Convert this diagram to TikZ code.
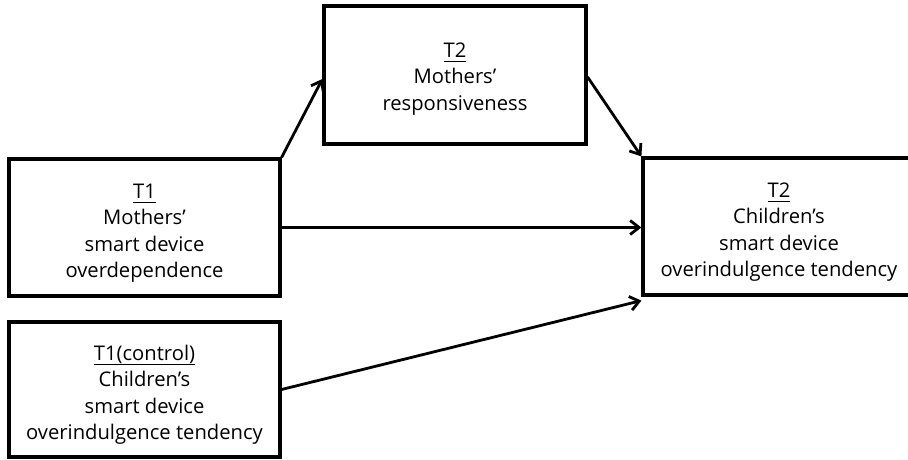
\documentclass[tikz,border=0pt]{standalone}
\usepackage{fontspec}
\setmainfont{Open Sans}
\usetikzlibrary{arrows.meta}
\newcommand{\ul}[1]{\underline{\smash{#1}\rule[-2.5pt]{0pt}{1pt}}}
\begin{document}
\begin{tikzpicture}[x=1pt,y=-1pt,
  box/.style={draw,line width=3.2pt,inner sep=0pt},
  txt/.style={align=center,inner sep=0pt,yshift=-13pt,
    font=\fontsize{20.2}{26.5}\selectfont},
  conn/.style={line width=2.8pt,-{Straight Barb[length=9pt,width=14pt,line width=2.8pt]}}]
\useasboundingbox (0,0) rectangle (908,460);
\node[box,minimum width=262pt,minimum height=138pt,
  label={[txt,yshift=2pt]center:{\ul{T2}\\Mothers’\\responsiveness}}] (top) at (455,75) {};
\node[box,minimum width=271pt,minimum height=137pt,
  label={[txt]center:{\ul{T1}\\Mothers’\\smart device\\overdependence}}] (b1) at (144.5,227.5) {};
\node[box,minimum width=271pt,minimum height=135pt,
  label={[txt]center:{\ul{T1(control)}\\Children’s\\smart device\\overindulgence tendency}}] (b3) at (144.5,389.5) {};
\node[box,minimum width=272pt,minimum height=137pt,
  label={[txt]center:{\ul{T2}\\Children’s\\smart device\\overindulgence tendency}}] (r) at (779,226.5) {};
\coordinate (tin) at ([yshift=-4pt]top.west);
\coordinate (tout) at ([yshift=-2pt]top.east);
\coordinate (rlow) at ([yshift=-4pt]r.south west);
\draw[conn] (b1.north east) -- (tin);
\draw[conn] (tout) -- (r.north west);
\draw[conn] (b1.east) -- (b1.east -| r.west);
\draw[conn] (b3.east) -- (rlow);
\end{tikzpicture}
\end{document}
